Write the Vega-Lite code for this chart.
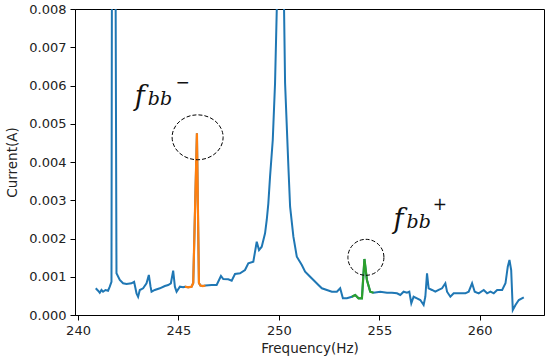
{
  "$schema": "https://vega.github.io/schema/vega-lite/v6.json",
  "width": 469,
  "height": 306,
  "autosize": {"type": "none"},
  "padding": {"left": 75, "top": 9, "right": 6, "bottom": 47},
  "background": "white",
  "config": {
    "view": {"stroke": "#000", "strokeWidth": 1},
    "axis": {
      "domainColor": "#000", "tickColor": "#000", "grid": false,
      "labelFont": "DejaVu Sans", "labelFontSize": 13, "labelColor": "#222",
      "titleFont": "DejaVu Sans", "titleFontSize": 13.5, "titleFontWeight": "normal", "titleColor": "#222",
      "tickSize": 5, "labelPadding": 4
    }
  },
  "datasets": {
    "blue": [
      {"f": 240.883, "c": 0.000698}, {"f": 240.998, "c": 0.000635}, {"f": 241.082, "c": 0.000583},
      {"f": 241.167, "c": 0.000654}, {"f": 241.247, "c": 0.000609}, {"f": 241.367, "c": 0.000654},
      {"f": 241.496, "c": 0.000635}, {"f": 241.581, "c": 0.00074}, {"f": 241.666, "c": 0.00087},
      {"f": 241.746, "c": 0.03}, {"f": 241.915, "c": 0.00109}, {"f": 242.080, "c": 0.000915},
      {"f": 242.244, "c": 0.000829}, {"f": 242.414, "c": 0.00081}, {"f": 242.663, "c": 0.000829},
      {"f": 242.793, "c": 0.00087}, {"f": 242.913, "c": 0.000567}, {"f": 242.992, "c": 0.000478},
      {"f": 243.077, "c": 0.000654}, {"f": 243.242, "c": 0.000698}, {"f": 243.411, "c": 0.000829},
      {"f": 243.526, "c": 0.001046}, {"f": 243.611, "c": 0.00074}, {"f": 243.661, "c": 0.000609},
      {"f": 243.825, "c": 0.000654}, {"f": 244.075, "c": 0.000698}, {"f": 244.324, "c": 0.000758},
      {"f": 244.489, "c": 0.000784}, {"f": 244.623, "c": 0.000829}, {"f": 244.738, "c": 0.001158},
      {"f": 244.823, "c": 0.00074}, {"f": 244.908, "c": 0.000609}, {"f": 245.072, "c": 0.00074},
      {"f": 245.237, "c": 0.000724}, {"f": 245.322, "c": 0.00074}, {"f": 245.486, "c": 0.000724},
      {"f": 245.656, "c": 0.00074}, {"f": 245.736, "c": 0.000837}, {"f": 245.920, "c": 0.00475},
      {"f": 246.020, "c": 0.000837}, {"f": 246.095, "c": 0.000771}, {"f": 246.219, "c": 0.000758},
      {"f": 246.344, "c": 0.000771}, {"f": 246.653, "c": 0.000784}, {"f": 246.903, "c": 0.000784},
      {"f": 247.117, "c": 0.00102}, {"f": 247.232, "c": 0.000941}, {"f": 247.481, "c": 0.000933},
      {"f": 247.651, "c": 0.000897}, {"f": 247.815, "c": 0.001072}, {"f": 248.065, "c": 0.00109},
      {"f": 248.314, "c": 0.001176}, {"f": 248.479, "c": 0.001352}, {"f": 248.728, "c": 0.001393},
      {"f": 248.898, "c": 0.001916}, {"f": 249.012, "c": 0.001699}, {"f": 249.147, "c": 0.001786},
      {"f": 249.312, "c": 0.002136}, {"f": 249.396, "c": 0.002484}, {"f": 249.476, "c": 0.00292},
      {"f": 249.561, "c": 0.003616}, {"f": 249.696, "c": 0.004575}, {"f": 249.810, "c": 0.006065},
      {"f": 249.895, "c": 0.007974}, {"f": 250.075, "c": 0.0095}, {"f": 250.259, "c": 0.007974},
      {"f": 250.309, "c": 0.006065}, {"f": 250.474, "c": 0.003877}, {"f": 250.559, "c": 0.002831},
      {"f": 250.723, "c": 0.002047}, {"f": 250.893, "c": 0.001524}, {"f": 251.142, "c": 0.001307},
      {"f": 251.307, "c": 0.001132}, {"f": 251.471, "c": 0.001046}, {"f": 251.721, "c": 0.000915},
      {"f": 251.970, "c": 0.000784}, {"f": 252.140, "c": 0.000698}, {"f": 252.389, "c": 0.000654},
      {"f": 252.638, "c": 0.000609}, {"f": 252.888, "c": 0.000609}, {"f": 253.052, "c": 0.000698},
      {"f": 253.187, "c": 0.000437}, {"f": 253.387, "c": 0.000437}, {"f": 253.636, "c": 0.000478},
      {"f": 253.801, "c": 0.000523}, {"f": 253.965, "c": 0.000437}, {"f": 254.135, "c": 0.000437},
      {"f": 254.260, "c": 0.001464}, {"f": 254.384, "c": 0.000915}, {"f": 254.549, "c": 0.000609},
      {"f": 254.713, "c": 0.000583}, {"f": 255.048, "c": 0.000609}, {"f": 255.382, "c": 0.000583},
      {"f": 255.631, "c": 0.000583}, {"f": 255.880, "c": 0.000567}, {"f": 256.045, "c": 0.000523},
      {"f": 256.209, "c": 0.000609}, {"f": 256.379, "c": 0.000583}, {"f": 256.494, "c": 0.000609},
      {"f": 256.594, "c": 0.000306}, {"f": 256.708, "c": 0.000478}, {"f": 256.878, "c": 0.000437},
      {"f": 257.042, "c": 0.000392}, {"f": 257.207, "c": 0.000261}, {"f": 257.292, "c": 0.000478},
      {"f": 257.376, "c": 0.00109}, {"f": 257.456, "c": 0.000698}, {"f": 257.626, "c": 0.000654},
      {"f": 257.790, "c": 0.000609}, {"f": 257.955, "c": 0.000654}, {"f": 258.124, "c": 0.000698},
      {"f": 258.289, "c": 0.000829}, {"f": 258.373, "c": 0.000609}, {"f": 258.538, "c": 0.000478},
      {"f": 258.703, "c": 0.000567}, {"f": 258.952, "c": 0.000567}, {"f": 259.286, "c": 0.000567},
      {"f": 259.451, "c": 0.000609}, {"f": 259.620, "c": 0.000829}, {"f": 259.750, "c": 0.000609},
      {"f": 259.950, "c": 0.000567}, {"f": 260.199, "c": 0.000654}, {"f": 260.369, "c": 0.000567},
      {"f": 260.534, "c": 0.000609}, {"f": 260.698, "c": 0.000567}, {"f": 260.868, "c": 0.000654},
      {"f": 261.117, "c": 0.000654}, {"f": 261.282, "c": 0.000829}, {"f": 261.396, "c": 0.001263},
      {"f": 261.481, "c": 0.001438}, {"f": 261.566, "c": 0.001176}, {"f": 261.646, "c": 0.000131},
      {"f": 261.781, "c": 0.000261}, {"f": 261.945, "c": 0.000392}, {"f": 262.194, "c": 0.000463}
    ],
    "orange": [
      {"f": 245.322, "c": 0.00074}, {"f": 245.486, "c": 0.000724}, {"f": 245.656, "c": 0.00074},
      {"f": 245.736, "c": 0.000837}, {"f": 245.920, "c": 0.00475}, {"f": 246.020, "c": 0.000837},
      {"f": 246.095, "c": 0.000771}, {"f": 246.219, "c": 0.000758}, {"f": 246.344, "c": 0.000771}
    ],
    "green": [
      {"f": 253.636, "c": 0.000478}, {"f": 253.801, "c": 0.000523}, {"f": 253.965, "c": 0.000437},
      {"f": 254.135, "c": 0.000437}, {"f": 254.260, "c": 0.001464}, {"f": 254.384, "c": 0.000915},
      {"f": 254.549, "c": 0.000609}, {"f": 254.713, "c": 0.000583}
    ],
    "circle1": [{"f": 245.955, "c": 0.004646}],
    "circle2": [{"f": 254.334, "c": 0.001508}],
    "labelF": [{"f": 242.828, "c": 0.00549, "t": "f"}, {"f": 255.711, "c": 0.00227, "t": "f"}],
    "labelBB": [{"f": 243.476, "c": 0.00549, "t": "bb"}, {"f": 256.359, "c": 0.00227, "t": "bb"}],
    "supers": [{"f": 245.207, "c": 0.006073, "t": "−"}, {"f": 258.012, "c": 0.002876, "t": "+"}]
  },
  "encoding": {
    "x": {"field": "f", "type": "quantitative", "title": "Frequency(Hz)",
      "scale": {"domain": [239.85, 263.2], "nice": false, "zero": false},
      "axis": {"values": [240, 245, 250, 255, 260], "titlePadding": 4}},
    "y": {"field": "c", "type": "quantitative", "title": "Current(A)",
      "scale": {"domain": [0, 0.008], "nice": false},
      "axis": {"values": [0, 0.001, 0.002, 0.003, 0.004, 0.005, 0.006, 0.007, 0.008], "format": ".3f", "titlePadding": 9}}
  },
  "layer": [
    {"data": {"name": "blue"}, "mark": {"type": "line", "color": "#1f77b4", "strokeWidth": 2, "clip": true}},
    {"data": {"name": "orange"}, "mark": {"type": "line", "color": "#ff7f0e", "strokeWidth": 2.2, "clip": true}},
    {"data": {"name": "green"}, "mark": {"type": "line", "color": "#2ca02c", "strokeWidth": 2.2, "clip": true}},
    {"data": {"name": "circle1"}, "mark": {"type": "point", "shape": "M -1 0 A 1 0.88 0 1 0 1 0 A 1 0.88 0 1 0 -1 0 Z", "size": 2601, "filled": false, "stroke": "#000", "strokeWidth": 1, "strokeDash": [4, 2], "opacity": 1}},
    {"data": {"name": "circle2"}, "mark": {"type": "point", "shape": "circle", "size": 1296, "filled": false, "stroke": "#000", "strokeWidth": 1, "strokeDash": [4, 2], "opacity": 1}},
    {"data": {"name": "labelF"}, "mark": {"type": "text", "font": "DejaVu Serif", "fontStyle": "italic", "fontSize": 27, "align": "left", "baseline": "alphabetic", "color": "#111"}, "encoding": {"text": {"field": "t"}}},
    {"data": {"name": "labelBB"}, "mark": {"type": "text", "font": "DejaVu Serif", "fontStyle": "italic", "fontSize": 19, "align": "left", "baseline": "alphabetic", "color": "#111"}, "encoding": {"text": {"field": "t"}}},
    {"data": {"name": "supers"}, "mark": {"type": "text", "font": "DejaVu Sans", "fontSize": 17, "align": "center", "baseline": "middle", "color": "#111"}, "encoding": {"text": {"field": "t"}}}
  ]
}
